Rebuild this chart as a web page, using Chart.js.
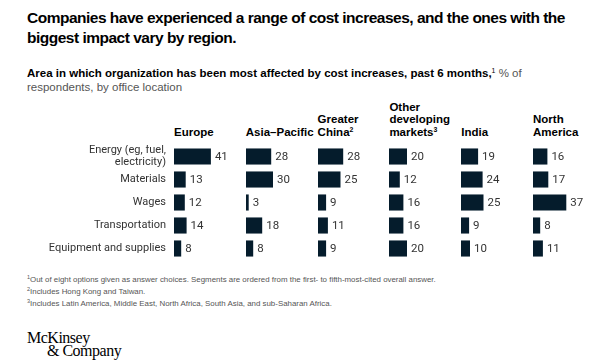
<!DOCTYPE html>
<html>
<head>
<meta charset="utf-8">
<script src="https://cdn.jsdelivr.net/npm/chart.js@4"></script>
<style>
  html, body { margin: 0; padding: 0; background: #fff; }
  body { width: 600px; height: 364px; position: relative; overflow: hidden; font-family: "Liberation Sans", Arial, sans-serif; color: #051c2c; }
  .abs { position: absolute; }
  #title { left: 27px; top: 8px; font-size: 15.5px; font-weight: bold; line-height: 20px; color: #000; width: 570px; letter-spacing: -0.5px; }
  #subtitle { left: 27px; top: 66px; font-size: 11.5px; line-height: 14px; color: #000; width: 560px; }
  #subtitle .g { color: #555; }
  sup { font-size: 0.6em; line-height: 0; vertical-align: 0.6em; }
  .hdr { top: 90px; height: 48px; width: 72px; display: flex; align-items: flex-end; font-size: 11.5px; font-weight: bold; line-height: 12.5px; color: #000; }
  .panel { position: absolute; }
  #notes { left: 27px; top: 274px; font-size: 7.9px; line-height: 12px; color: #555; }
  #notes sup { font-size: 0.7em; }
  #logo { left: 27px; top: 331px; font-family: "Liberation Serif", "DejaVu Serif", serif; font-size: 16px; line-height: 13px; color: #000; letter-spacing: -0.5px; }
</style>
</head>
<body>
<div id="title" class="abs">Companies have experienced a range of cost increases, and the ones with the biggest impact vary by region.</div>
<div id="subtitle" class="abs"><b>Area in which organization has been most affected by cost increases, past 6 months,</b><sup>1</sup> <span class="g">% of<br>respondents, by office location</span></div>
<div id="headers"></div>
<div id="charts"></div>
<div id="notes" class="abs"><sup>1</sup>Out of eight options given as answer choices. Segments are ordered from the first- to fifth-most-cited overall answer.<br><sup>2</sup>Includes Hong Kong and Taiwan.<br><sup>3</sup>Includes Latin America, Middle East, North Africa, South Asia, and sub-Saharan Africa.</div>
<div id="logo" class="abs">McKinsey<br><span style="padding-left:20px">&amp; Company</span></div>

<script>
/* ---- Data ---- */
const categories = [["Energy (eg, fuel,", "electricity)"], "Materials", "Wages", "Transportation", "Equipment and supplies"];
const regionHeaders = [["Europe"], ["Asia–Pacific"], ["Greater", "China"], ["Other", "developing", "markets"], ["India"], ["North", "America"]];
const regionNotes = ["", "", "2", "3", "", ""];

const europe = [41, 13, 12, 14, 8];
const asiaPacific = [28, 30, 3, 18, 8];
const greaterChina = [28, 25, 9, 11, 9];
const otherDeveloping = [20, 12, 16, 16, 20];
const india = [19, 24, 25, 9, 10];
const northAmerica = [16, 17, 37, 8, 11];

const series = [europe, asiaPacific, greaterChina, otherDeveloping, india, northAmerica];

/* ---- Layout ---- */
const BAR_COLOR = "#051c2c";
const LABEL_FONT = "Roboto, 'Liberation Sans', Arial, sans-serif";
const COL_LEFT = 174;     // left edge of first bar column
const COL_STEP = 71.8;
const COL_W = 70;
const PX_PER_UNIT = 0.9;
const PLOT_TOP = 145;
const PLOT_H = 115;
const LABEL_W = 174;

// Value labels after each bar
const valueLabels = {
  id: "valueLabels",
  afterDatasetsDraw(chart) {
    const ctx = chart.ctx;
    const meta = chart.getDatasetMeta(0);
    ctx.save();
    ctx.font = "11.5px " + LABEL_FONT;
    ctx.fillStyle = "#333";
    ctx.textBaseline = "middle";
    ctx.textAlign = "left";
    meta.data.forEach((bar, i) => {
      ctx.fillText(chart.data.datasets[0].data[i], bar.x + 4, bar.y + 0.5);
    });
    ctx.restore();
  }
};

function renderHeaders() {
  const box = document.getElementById("headers");
  regionHeaders.forEach((lines, i) => {
    const d = document.createElement("div");
    d.className = "abs hdr";
    d.style.left = (COL_LEFT + i * COL_STEP) + "px";
    const note = regionNotes[i] ? `<sup>${regionNotes[i]}</sup>` : "";
    d.innerHTML = `<div>${lines.join("<br>")}${note}</div>`;
    box.appendChild(d);
  });
}

function renderPanel(i) {
  const first = i === 0;
  const wrap = document.createElement("div");
  wrap.className = "panel";
  const left = first ? 0 : Math.round(COL_LEFT + i * COL_STEP);
  const width = first ? LABEL_W + COL_W : COL_W;
  wrap.style.left = left + "px"; wrap.style.top = PLOT_TOP + "px";
  wrap.style.width = width + "px"; wrap.style.height = PLOT_H + "px";
  const c = document.createElement("canvas");
  wrap.appendChild(c);
  document.getElementById("charts").appendChild(wrap);

  const yAxis = {
    display: first,
    border: { display: false },
    grid: { display: false, drawTicks: false },
    ticks: { autoSkip: false, padding: 8, color: "#333", font: { family: LABEL_FONT, size: 11, lineHeight: 1.12 } }
  };
  // fixed label column, no extra top/bottom inset from tick labels
  if (first) yAxis.afterFit = s => { s.width = LABEL_W; s.paddingTop = 0; s.paddingBottom = 0; };

  new Chart(c.getContext("2d"), {
    type: "bar",
    data: {
      labels: categories,
      datasets: [{ data: series[i], backgroundColor: BAR_COLOR, borderWidth: 0, barPercentage: 0.7, categoryPercentage: 1 }]
    },
    options: {
      indexAxis: "y",
      responsive: true,
      maintainAspectRatio: false,
      animation: false,
      devicePixelRatio: 1,
      layout: { padding: 0 },
      plugins: { legend: { display: false }, tooltip: { enabled: false }, title: { display: false } },
      scales: {
        x: { display: false, min: 0, max: COL_W / PX_PER_UNIT },
        y: yAxis
      }
    },
    plugins: [valueLabels]
  });
}

renderHeaders();
series.forEach((_, i) => renderPanel(i));
</script>
</body>
</html>
